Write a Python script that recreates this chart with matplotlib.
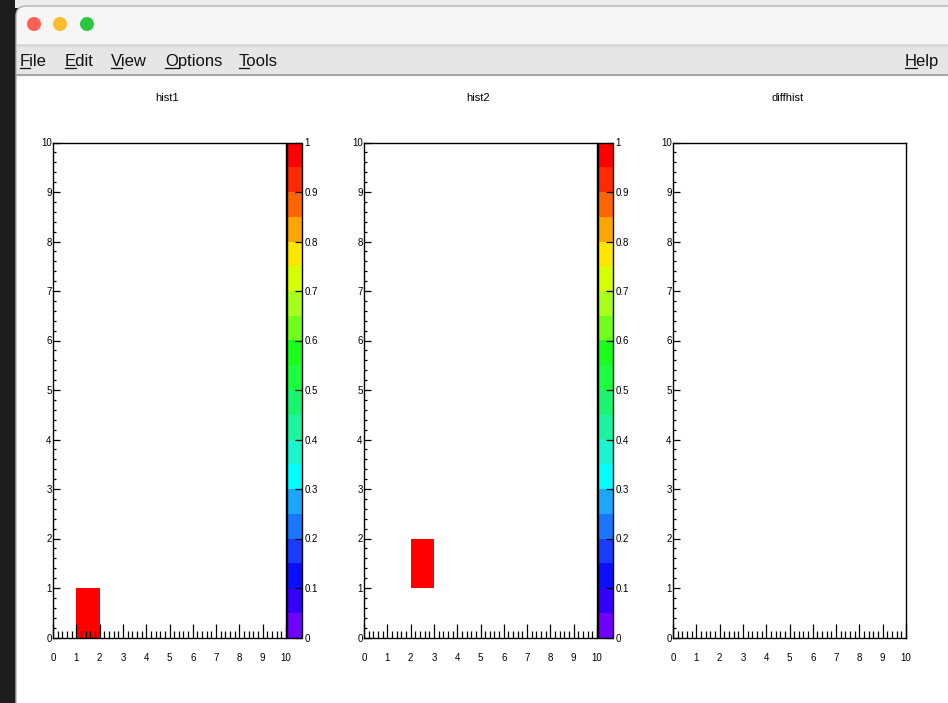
import matplotlib
matplotlib.use("Agg")
import matplotlib.pyplot as plt
import numpy as np
from matplotlib.colors import ListedColormap
from matplotlib.patches import FancyBboxPatch, Circle, Rectangle
from matplotlib.ticker import MultipleLocator, FormatStrFormatter

plt.rcParams['font.family'] = ['Liberation Sans', 'DejaVu Sans']

W, H = 948, 703

# 10 x 10 bins over [0, 10] for every histogram
x_edges = [0, 1, 2, 3, 4, 5, 6, 7, 8, 9, 10]
y_edges = [0, 1, 2, 3, 4, 5, 6, 7, 8, 9, 10]

# filled entries (bin centres), weight 1 each
hist1_x = [1.5]
hist1_y = [0.5]
hist2_x = [2.5]
hist2_y = [1.5]
diff_x = []
diff_y = []

titles = ["hist1", "hist2", "diffhist"]
menu_items = ["File", "Edit", "View", "Options", "Tools"]
menu_x = [20, 65, 111, 165, 239]
cbar_ticks = [0, 0.1, 0.2, 0.3, 0.4, 0.5, 0.6, 0.7, 0.8, 0.9, 1.0]

# ROOT-like rainbow palette, 20 contour levels (bottom -> top)
palette = ["#7000ff", "#3300ff", "#0a10ff", "#1a3cff", "#1a75ff", "#1aa8ff",
           "#00ffff", "#1af5d0", "#1af5a0", "#1af570", "#1aff40", "#1aff1a",
           "#70ff1a", "#a8ff1a", "#d8ff00", "#ffe600", "#ffa500", "#ff6600",
           "#ff2a00", "#ff0000"]
cmap = ListedColormap(palette)


def px_box(l, t, r, b):
    return [l / W, 1 - b / H, (r - l) / W, (b - t) / H]


fig = plt.figure(figsize=(W / 100, H / 100), dpi=100, facecolor="#1c1c1c")

# window chrome drawn in pixel coordinates
bg = fig.add_axes([0, 0, 1, 1])
bg.set_xlim(0, W)
bg.set_ylim(H, 0)
bg.axis("off")
bg.set_zorder(-10)
bg.add_patch(Rectangle((15, 0), W, 8, fc="#ececec", ec="none"))
bg.add_patch(FancyBboxPatch((16, 6), 980, 760, boxstyle="round,pad=0,rounding_size=10",
                            fc="#f6f6f6", ec="#b0b0b0", lw=1))
bg.add_patch(Rectangle((17, 44), W, 31, fc="#e6e6e6", ec="none"))
bg.plot([17, W], [44.5, 44.5], color="#cfcfcf", lw=1)
bg.plot([17, W], [75, 75], color="#9a9a9a", lw=1.2)
bg.add_patch(Rectangle((17, 76.5), W, H, fc="white", ec="none"))
for cx, col in zip([34, 60, 87], ["#fe5f57", "#febc2e", "#28c840"]):
    bg.add_patch(Circle((cx, 24), 7, fc=col, ec="none"))

renderer = fig.canvas.get_renderer()
for label, x in zip(menu_items + ["Help"], menu_x + [905]):
    bg.text(x, 66, label, fontsize=12, va="baseline", ha="left", color="#111111")
    first = bg.text(x, 66, label[0], fontsize=12, va="baseline", ha="left", alpha=0)
    bb = first.get_window_extent(renderer)
    bg.plot([bb.x0, bb.x1], [67.5, 67.5], color="#111111", lw=0.9)


def draw_hist(ax_box, xs, ys, title, cbar_box=None):
    ax = fig.add_axes(px_box(*ax_box))
    counts, _, _ = np.histogram2d(xs, ys, bins=[x_edges, y_edges])
    masked = np.ma.masked_equal(counts.T, 0)
    mesh = ax.pcolormesh(x_edges, y_edges, masked, cmap=cmap, vmin=0, vmax=1)
    ax.set_xlim(0, 10)
    ax.set_ylim(0, 10)
    ax.xaxis.set_major_locator(MultipleLocator(1))
    ax.xaxis.set_minor_locator(MultipleLocator(0.2))
    ax.yaxis.set_major_locator(MultipleLocator(1))
    ax.yaxis.set_minor_locator(MultipleLocator(0.2))
    ax.tick_params(axis="x", which="major", direction="in", length=10, width=0.9, pad=11.5, labelsize=7)
    ax.tick_params(axis="x", which="minor", direction="in", length=5, width=0.9)
    ax.tick_params(axis="y", which="major", direction="in", length=5, width=0.9, pad=1, labelsize=7)
    ax.tick_params(axis="y", which="minor", direction="in", length=2.5, width=0.9)
    for s in ax.spines.values():
        s.set_linewidth(1.0)
    fig.text((ax_box[0] + ax_box[2]) / 2 / W - 2 / W, 1 - 98 / H, title,
             ha="center", va="center", fontsize=8)
    if cbar_box:
        cax = fig.add_axes(px_box(*cbar_box))
        cb = fig.colorbar(mesh, cax=cax, ticks=cbar_ticks)
        cb.ax.yaxis.set_major_formatter(FormatStrFormatter("%g"))
        cb.ax.minorticks_off()
        cb.ax.tick_params(direction="in", length=5, width=0.9, pad=2, labelsize=7)
        cb.outline.set_linewidth(1.0)
    return ax


draw_hist((53, 142.5, 286, 637.5), hist1_x, hist1_y, titles[0], (287, 142.5, 302, 637.5))
draw_hist((364, 142.5, 597, 637.5), hist2_x, hist2_y, titles[1], (598, 142.5, 613, 637.5))
draw_hist((673, 142.5, 906, 637.5), diff_x, diff_y, titles[2])

fig.savefig("out.png", dpi=100, facecolor=fig.get_facecolor())
